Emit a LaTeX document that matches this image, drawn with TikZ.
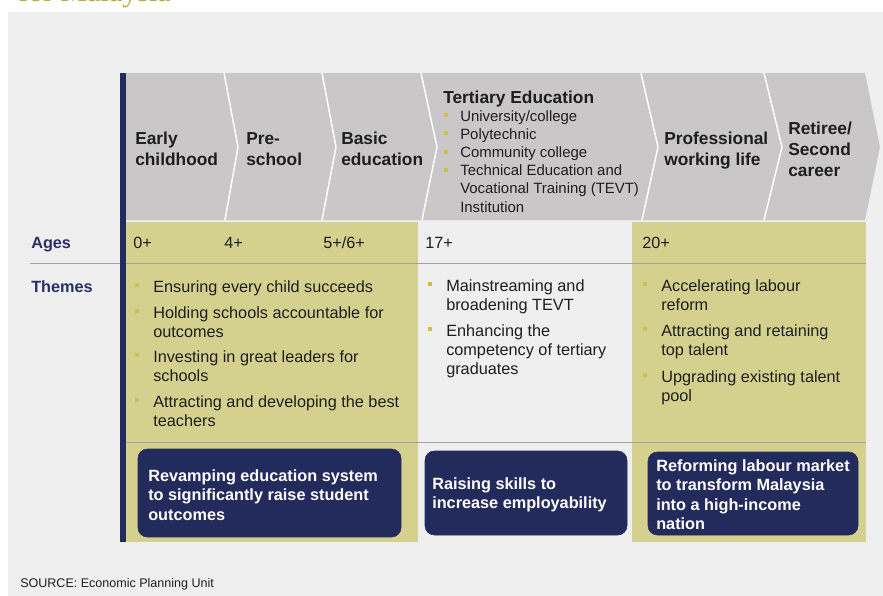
\documentclass[tikz,border=0pt]{standalone}
\usepackage{fontspec}
\setmainfont{Liberation Sans}
\newfontfamily\titleserif{Liberation Serif}
\usetikzlibrary{fit}
\definecolor{bggray}{HTML}{EFEFEF}
\definecolor{chevgray}{HTML}{C9C7C7}
\definecolor{olivefill}{HTML}{D4D18F}
\definecolor{navy}{HTML}{232A5C}
\definecolor{labnavy}{HTML}{2B2F68}
\definecolor{txtdark}{HTML}{1E1E1E}
\definecolor{bulc}{HTML}{CDBF4F}
\definecolor{linegray}{HTML}{A3A3A3}
\definecolor{titlegold}{HTML}{B9A93A}
\tikzset{
  hdr/.style={anchor=base west, inner sep=0, align=left, text=txtdark,
    font=\fontsize{13}{15.4}\selectfont\bfseries},
  tert/.style={anchor=base west, inner sep=0, align=left, text=txtdark,
    font=\fontsize{11.2}{13.65}\selectfont},
  rowlab/.style={anchor=base west, inner sep=0, text=labnavy,
    font=\fontsize{12.2}{14.25}\selectfont\bfseries},
  ageval/.style={anchor=base west, inner sep=0, text=txtdark,
    font=\fontsize{12.2}{14.25}\selectfont},
  body/.style={anchor=base west, inner sep=0, align=left, text=txtdark,
    font=\fontsize{12.2}{14.25}\selectfont},
  boxtxt/.style={anchor=base west, inner sep=0, align=left, text=white,
    font=\fontsize{12.2}{14.6}\selectfont\bfseries},
  bul/.style={fill=bulc, minimum size=3pt, inner sep=0, draw=none},
  navybox/.style={fill=navy, draw=navy, rounded corners=7pt, inner sep=0},
  sepline/.style={draw=linegray, line width=0.6pt},
  chevsep/.style={draw=white, line width=1.1pt},
}
\begin{document}
\begin{tikzpicture}[x=0.75pt,y=-0.75pt]
\useasboundingbox (0,0) rectangle (883,596);
\clip (0,0) rectangle (883,596);
% backgrounds
\fill[white] (0,0) rectangle (883,596);
\fill[bggray] (8,12) rectangle (883,596);
\node[anchor=base west, inner sep=0, text=titlegold,
  font=\titleserif\fontsize{22.5}{26}\selectfont] (title) at (18,2) {for Malaysia};
% chevron band
\fill[chevgray] (126,73) -- (865,73) -- (880,147) -- (865,220) -- (126,220) -- cycle;
\draw[chevsep] (224,73) -- (238,147) -- (225,220);
\draw[chevsep] (322,73) -- (336,147) -- (322,220);
\draw[chevsep] (421,73) -- (437,147) -- (422,220);
\draw[chevsep] (641,73) -- (658,147) -- (642,220);
\draw[chevsep] (764,73) -- (782,147) -- (764,220);
% olive columns
\fill[olivefill] (126,222) rectangle (418,542);
\fill[olivefill] (632,222) rectangle (866,542);
% separator lines
\draw[sepline] (30,263) -- (866,263);
\draw[sepline] (126,442) -- (866,442);
% navy bar
\fill[navy] (120,73) rectangle (126,542);
% chevron headers (anchor = baseline of last line)
\node[hdr] (early) at (135,165) {Early\\childhood};
\node[hdr] (pre) at (246,165) {Pre-\\school};
\node[hdr] (basic) at (341,165) {Basic\\education};
\node[hdr] (tert) at (443,103) {Tertiary Education};
\node[tert] (tertlist) at (460,212) {University/college\\Polytechnic\\Community college\\Technical Education and\\Vocational Training (TEVT)\\Institution};
\node[bul] (tb1) at (446,115) {};
\node[bul] (tb2) at (446,133) {};
\node[bul] (tb3) at (446,152) {};
\node[bul] (tb4) at (446,170) {};
\node[hdr] (prof) at (664,165) {Professional\\working life};
\node[hdr, font=\fontsize{13}{15.75}\selectfont\bfseries] (retiree) at (788,176) {Retiree/\\Second\\career};
% ages row
\node[rowlab] (ages) at (31,248) {Ages};
\node[ageval] (a0) at (133,248) {0+};
\node[ageval] (a4) at (224,248) {4+};
\node[ageval] (a5) at (323,248) {5+/6+};
\node[ageval] (a17) at (425,248) {17+};
\node[ageval] (a20) at (642,248) {20+};
% themes
\node[rowlab] (themes) at (31,292) {Themes};
\node[body] (l1) at (153,292) {Ensuring every child succeeds};
\node[body] (l2) at (153,337) {Holding schools accountable for\\outcomes};
\node[body] (l3) at (153,381) {Investing in great leaders for\\schools};
\node[body] (l4) at (153,426) {Attracting and developing the best\\teachers};
\node[bul] (lb1) at (137,285) {};
\node[bul] (lb2) at (137,311) {};
\node[bul] (lb3) at (137,355) {};
\node[bul] (lb4) at (137,400) {};
\node[body] (m1) at (446,310) {Mainstreaming and\\broadening TEVT};
\node[body] (m2) at (446,374) {Enhancing the\\competency of tertiary\\graduates};
\node[bul] (mb1) at (430,284) {};
\node[bul] (mb2) at (430,329) {};
\node[body] (r1) at (661,310) {Accelerating labour\\reform};
\node[body] (r2) at (661,355) {Attracting and retaining\\top talent};
\node[body] (r3) at (661,401) {Upgrading existing talent\\pool};
\node[bul] (rb1) at (645,284) {};
\node[bul] (rb2) at (645,329) {};
\node[bul] (rb3) at (645,375) {};
% navy boxes
\node[navybox, fit={(138,449) (401,537)}] (box1) {};
\node[navybox, fit={(425,451) (627,535)}] (box2) {};
\node[navybox, fit={(648,452) (858,535)}] (box3) {};
\node[boxtxt] (t1) at (148,520) {Revamping education system\\to significantly raise student\\outcomes};
\node[boxtxt] (t2) at (432,508.5) {Raising skills to\\increase employability};
\node[boxtxt] (t3) at (656,529.5) {Reforming labour market\\to transform Malaysia\\into a high-income\\nation};
% source
\node[anchor=base west, inner sep=0, text=txtdark, font=\fontsize{9.4}{11}\selectfont] (source) at (20,587) {SOURCE: Economic Planning Unit};
\end{tikzpicture}
\end{document}
